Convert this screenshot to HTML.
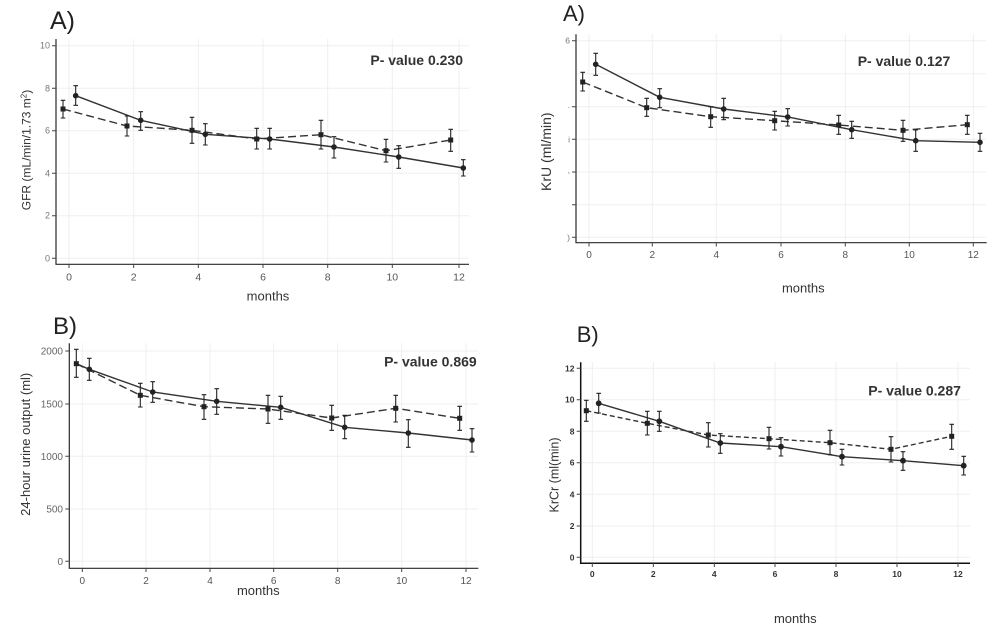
<!DOCTYPE html>
<html><head><meta charset="utf-8"><style>
html,body{margin:0;padding:0;background:#fff;}
svg{display:block;font-family:"Liberation Sans",Arial,sans-serif;}
.g{stroke:#efefef;stroke-width:1;fill:none}
.ax{stroke:#2a2a2a;stroke-width:1.2;fill:none}
.ax4{stroke:#111;stroke-width:1.5;fill:none}
.tk{stroke:#444;stroke-width:1;fill:none}
.s{stroke:#333;stroke-width:1.4;fill:none}
.d{stroke:#333;stroke-width:1.4;fill:none;stroke-dasharray:8 4}
.d4{stroke:#333;stroke-width:1.4;fill:none;stroke-dasharray:5 3}
.e{stroke:#222;stroke-width:1.1;fill:none}
.m{fill:#222}
.pv{font-weight:bold;font-size:14px;fill:#333}
.ttl{fill:#222}
.mo{font-size:13px;fill:#333;text-anchor:middle}
</style></head><body>
<svg width="1001" height="636" viewBox="0 0 1001 636" xmlns="http://www.w3.org/2000/svg">
<rect width="1001" height="636" fill="#fff"/>

<!-- ============ Panel 1 ============ -->
<path class="g" d="M56 45.7H469M56 88.3H469M56 130.7H469M56 173.3H469M56 215.7H469M56 258.3H469M69 39V264M133.7 39V264M198.3 39V264M263 39V264M327.7 39V264M392.3 39V264M459 39V264"/>
<path class="ax" d="M56 39V264.3H469"/>
<path class="tk" d="M52 45.7H56M52 88.3H56M52 130.7H56M52 173.3H56M52 215.7H56M52 258.3H56M69 264.3V268M133.7 264.3V268M198.3 264.3V268M263 264.3V268M327.7 264.3V268M392.3 264.3V268M459 264.3V268"/>
<g font-size="9" fill="#777" text-anchor="end">
<text x="50" y="48.7">10</text><text x="50" y="91.3">8</text><text x="50" y="133.7">6</text><text x="50" y="176.3">4</text><text x="50" y="218.7">2</text><text x="50" y="261.3">0</text>
</g>
<g font-size="10.5" fill="#555" text-anchor="middle">
<text x="69" y="280.5">0</text><text x="133.7" y="280.5">2</text><text x="198.3" y="280.5">4</text><text x="263" y="280.5">6</text><text x="327.7" y="280.5">8</text><text x="392.3" y="280.5">10</text><text x="459" y="280.5">12</text>
</g>
<text class="ttl" x="50" y="29" font-size="25">A)</text>
<text transform="translate(30.5,150) rotate(-90)" font-size="12" fill="#333" text-anchor="middle">GFR (mL/min/1.73 m<tspan font-size="8" dy="-4">2</tspan><tspan dy="4">)</tspan></text>
<text class="mo" x="268" y="300.5">months</text>
<text class="pv" x="463" y="65" text-anchor="end">P- value 0.230</text>
<polyline class="d" points="63,109 127,126 192,130.3 256.7,139 321,134.7 386,150.7 450.7,140"/>
<polyline class="s" points="75.7,95.7 140.7,120.3 205.3,134.3 269.7,139 334,147 398.7,157 463.3,168"/>
<path class="e" d="M75.7 85.7V105.3M73.4 85.7h4.6M73.4 105.3h4.6M140.7 111.7V130.3M138.4 111.7h4.6M138.4 130.3h4.6M205.3 123.7V145M203 123.7h4.6M203 145h4.6M269.7 128.3V149M267.4 128.3h4.6M267.4 149h4.6M334 136.7V158M331.7 136.7h4.6M331.7 158h4.6M398.7 145.7V168.3M396.4 145.7h4.6M396.4 168.3h4.6M463.3 159.7V176M461 159.7h4.6M461 176h4.6"/>
<path class="e" d="M63 100.3V118M60.7 100.3h4.6M60.7 118h4.6M127 116V136M124.7 116h4.6M124.7 136h4.6M192 117.3V143.3M189.7 117.3h4.6M189.7 143.3h4.6M256.7 128.3V149M254.4 128.3h4.6M254.4 149h4.6M321 120.3V149M318.7 120.3h4.6M318.7 149h4.6M386 139.3V162M383.7 139.3h4.6M383.7 162h4.6M450.7 129.3V151.3M448.4 129.3h4.6M448.4 151.3h4.6"/>
<g class="m">
<circle cx="75.7" cy="95.7" r="2.8"/><circle cx="140.7" cy="120.3" r="2.8"/><circle cx="205.3" cy="134.3" r="2.8"/><circle cx="269.7" cy="139" r="2.8"/><circle cx="334" cy="147" r="2.8"/><circle cx="398.7" cy="157" r="2.8"/><circle cx="463.3" cy="168" r="2.8"/>
<rect x="60.5" y="106.5" width="5" height="5"/><rect x="124.5" y="123.5" width="5" height="5"/><rect x="189.5" y="127.8" width="5" height="5"/><rect x="254.2" y="136.5" width="5" height="5"/><rect x="318.5" y="132.2" width="5" height="5"/><rect x="383.5" y="148.2" width="5" height="5"/><rect x="448.2" y="137.5" width="5" height="5"/>
</g>

<!-- ============ Panel 2 ============ -->
<path class="g" d="M576 40.7H986M576 73.7H986M576 106.7H986M576 139.3H986M576 172H986M576 204.7H986M576 237.3H986M589 34V242.7M652.3 34V242.7M716.3 34V242.7M781 34V242.7M845.3 34V242.7M909.3 34V242.7M973.3 34V242.7"/>
<path class="ax" d="M576 34.3V242.7H986.7"/>
<path class="tk" d="M572 40.7H576M572 106.7H576M572 139.3H576M572 172H576M572 204.7H576M572 237.3H576M589 242.7V246.5M652.3 242.7V246.5M716.3 242.7V246.5M781 242.7V246.5M845.3 242.7V246.5M909.3 242.7V246.5M973.3 242.7V246.5"/>
<g font-size="8.5" fill="#777" text-anchor="end">
<text x="570" y="43.7">6</text><text x="570" y="108">.</text><text x="570" y="142.3">i</text><text x="570" y="173">,</text><text x="570" y="240.3">)</text>
</g>
<g font-size="10" fill="#555" text-anchor="middle">
<text x="589" y="258">0</text><text x="652.3" y="258">2</text><text x="716.3" y="258">4</text><text x="781" y="258">6</text><text x="845.3" y="258">8</text><text x="909.3" y="258">10</text><text x="973.3" y="258">12</text>
</g>
<text class="ttl" x="563" y="21" font-size="22">A)</text>
<text transform="translate(551,151.7) rotate(-90)" font-size="14" fill="#333" text-anchor="middle">KrU (ml/min)</text>
<text class="mo" x="803.3" y="292.5">months</text>
<text class="pv" x="857.7" y="66">P- value 0.127</text>
<polyline class="d" points="582.7,82 646.7,107.7 710.7,116.7 774.7,120.7 838.7,125 903,130.3 967.3,124.7"/>
<polyline class="s" points="595.7,64.3 659.7,97.3 723.7,109 787.7,117 851.7,129.7 915.7,140.7 980,142.3"/>
<path class="e" d="M595.7 53.3V75.3M593.4 53.3h4.6M593.4 75.3h4.6M659.7 88.7V107.7M657.4 88.7h4.6M657.4 107.7h4.6M723.7 98.3V119.7M721.4 98.3h4.6M721.4 119.7h4.6M787.7 108.7V126M785.4 108.7h4.6M785.4 126h4.6M851.7 121.3V138.3M849.4 121.3h4.6M849.4 138.3h4.6M915.7 130V151.3M913.4 130h4.6M913.4 151.3h4.6M980 133.3V151.3M977.7 133.3h4.6M977.7 151.3h4.6"/>
<path class="e" d="M582.7 72.3V91M580.4 72.3h4.6M580.4 91h4.6M646.7 98.3V116.3M644.4 98.3h4.6M644.4 116.3h4.6M710.7 106.7V127.3M708.4 106.7h4.6M708.4 127.3h4.6M774.7 111.3V130M772.4 111.3h4.6M772.4 130h4.6M838.7 115.3V134.3M836.4 115.3h4.6M836.4 134.3h4.6M903 120.3V141.3M900.7 120.3h4.6M900.7 141.3h4.6M967.3 115.3V134.3M965 115.3h4.6M965 134.3h4.6"/>
<g class="m">
<circle cx="595.7" cy="64.3" r="2.8"/><circle cx="659.7" cy="97.3" r="2.8"/><circle cx="723.7" cy="109" r="2.8"/><circle cx="787.7" cy="117" r="2.8"/><circle cx="851.7" cy="129.7" r="2.8"/><circle cx="915.7" cy="140.7" r="2.8"/><circle cx="980" cy="142.3" r="2.8"/>
<rect x="580.2" y="79.5" width="5" height="5"/><rect x="644.2" y="105.2" width="5" height="5"/><rect x="708.2" y="114.2" width="5" height="5"/><rect x="772.2" y="118.2" width="5" height="5"/><rect x="836.2" y="122.5" width="5" height="5"/><rect x="900.5" y="127.8" width="5" height="5"/><rect x="964.8" y="122.2" width="5" height="5"/>
</g>

<!-- ============ Panel 3 ============ -->
<path class="g" d="M69.3 351H478M69.3 404H478M69.3 456.3H478M69.3 509H478M69.3 561.3H478M82.3 343V568M146 343V568M210 343V568M273.7 343V568M337.7 343V568M401.7 343V568M466 343V568"/>
<path class="ax" d="M69.3 343.3V568.3H478.3"/>
<path class="tk" d="M65.3 351H69.3M65.3 404H69.3M65.3 456.3H69.3M65.3 509H69.3M65.3 561.3H69.3M82.3 568.3V572M146 568.3V572M210 568.3V572M273.7 568.3V572M337.7 568.3V572M401.7 568.3V572M466 568.3V572"/>
<g font-size="10" fill="#666" text-anchor="end">
<text x="63" y="354.5">2000</text><text x="63" y="407.5">1500</text><text x="63" y="459.8">1000</text><text x="63" y="512.5">500</text><text x="63" y="564.8">0</text>
</g>
<g font-size="10" fill="#555" text-anchor="middle">
<text x="82.3" y="584">0</text><text x="146" y="584">2</text><text x="210" y="584">4</text><text x="273.7" y="584">6</text><text x="337.7" y="584">8</text><text x="401.7" y="584">10</text><text x="466" y="584">12</text>
</g>
<text class="ttl" x="53" y="334" font-size="24">B)</text>
<text transform="translate(30,444.3) rotate(-90)" font-size="13" fill="#333" text-anchor="middle">24-hour urine output (ml)</text>
<text class="mo" x="258.3" y="595">months</text>
<text class="pv" x="476.7" y="366.5" text-anchor="end">P- value 0.869</text>
<polyline class="d" points="76.3,363.7 140.3,395.3 204,406.7 268,409 331.7,418 395.7,408.3 459.7,418.3"/>
<polyline class="s" points="76.3,363.7 89.3,369.3 152.7,392 216.7,401.3 280.7,407.3 344.7,427.3 408.3,433 472,440"/>
<path class="e" d="M89.3 358.3V380.3M87 358.3h4.6M87 380.3h4.6M152.7 381.7V402.3M150.4 381.7h4.6M150.4 402.3h4.6M216.7 388.7V414.3M214.4 388.7h4.6M214.4 414.3h4.6M280.7 396.3V419.3M278.4 396.3h4.6M278.4 419.3h4.6M344.7 415.3V438.7M342.4 415.3h4.6M342.4 438.7h4.6M408.3 419.7V447.3M406 419.7h4.6M406 447.3h4.6M472 428.7V452M469.7 428.7h4.6M469.7 452h4.6"/>
<path class="e" d="M76.3 349.3V377.3M74 349.3h4.6M74 377.3h4.6M140.3 383.3V407M138 383.3h4.6M138 407h4.6M204 394.7V419.3M201.7 394.7h4.6M201.7 419.3h4.6M268 395.3V423.3M265.7 395.3h4.6M265.7 423.3h4.6M331.7 405.3V430.3M329.4 405.3h4.6M329.4 430.3h4.6M395.7 395.3V422M393.4 395.3h4.6M393.4 422h4.6M459.7 406.3V430.3M457.4 406.3h4.6M457.4 430.3h4.6"/>
<g class="m">
<circle cx="89.3" cy="369.3" r="2.8"/><circle cx="152.7" cy="392" r="2.8"/><circle cx="216.7" cy="401.3" r="2.8"/><circle cx="280.7" cy="407.3" r="2.8"/><circle cx="344.7" cy="427.3" r="2.8"/><circle cx="408.3" cy="433" r="2.8"/><circle cx="472" cy="440" r="2.8"/>
<rect x="73.8" y="361.2" width="5" height="5"/><rect x="137.8" y="392.8" width="5" height="5"/><rect x="201.5" y="404.2" width="5" height="5"/><rect x="265.5" y="406.5" width="5" height="5"/><rect x="329.2" y="415.5" width="5" height="5"/><rect x="393.2" y="405.8" width="5" height="5"/><rect x="457.2" y="415.8" width="5" height="5"/>
</g>

<!-- ============ Panel 4 ============ -->
<path class="g" d="M580.7 368.3H970M580.7 399.7H970M580.7 431.3H970M580.7 462.7H970M580.7 494.3H970M580.7 526H970M580.7 557.3H970M592.3 362V563M653.3 362V563M714.3 362V563M775 362V563M836 362V563M897 362V563M958 362V563"/>
<path class="ax4" d="M580.7 362.3V563.3H970"/>
<path class="tk" d="M576.7 368.3H580.7M576.7 399.7H580.7M576.7 431.3H580.7M576.7 462.7H580.7M576.7 494.3H580.7M576.7 526H580.7M576.7 557.3H580.7M592.3 563.3V567M653.3 563.3V567M714.3 563.3V567M775 563.3V567M836 563.3V567M897 563.3V567M958 563.3V567"/>
<g font-size="8.5" font-weight="bold" fill="#333" text-anchor="end">
<text x="574.5" y="371.3">12</text><text x="574.5" y="402.7">10</text><text x="574.5" y="434.3">8</text><text x="574.5" y="465.7">6</text><text x="574.5" y="497.3">4</text><text x="574.5" y="529">2</text><text x="574.5" y="560.3">0</text>
</g>
<g font-size="8.5" font-weight="bold" fill="#333" text-anchor="middle">
<text x="592.3" y="577">0</text><text x="653.3" y="577">2</text><text x="714.3" y="577">4</text><text x="775" y="577">6</text><text x="836" y="577">8</text><text x="897" y="577">10</text><text x="958" y="577">12</text>
</g>
<text class="ttl" x="576.7" y="342" font-size="22">B)</text>
<text transform="translate(558.5,475) rotate(-90)" font-size="12.5" fill="#333" text-anchor="middle">KrCr (ml(min)</text>
<text class="mo" x="795.3" y="623">months</text>
<text class="pv" x="868.3" y="395.5">P- value 0.287</text>
<polyline class="d4" points="586.3,410.7 647.3,423.3 708.3,435 769,438.7 830,442.7 891,449.3 951.7,436.3"/>
<polyline class="s" points="598.7,403.3 659.3,421.3 720.3,443 781,446.7 842,456.7 903,460.7 963.7,465.7"/>
<path class="e" d="M598.7 393.3V413M596.4 393.3h4.6M596.4 413h4.6M659.3 411.3V431.3M657 411.3h4.6M657 431.3h4.6M720.3 433.7V453.3M718 433.7h4.6M718 453.3h4.6M781 437.7V456M778.7 437.7h4.6M778.7 456h4.6M842 449.3V465M839.7 449.3h4.6M839.7 465h4.6M903 451.7V470.3M900.7 451.7h4.6M900.7 470.3h4.6M963.7 456.3V475M961.4 456.3h4.6M961.4 475h4.6"/>
<path class="e" d="M586.3 400.3V421.3M584 400.3h4.6M584 421.3h4.6M647.3 411.3V435M645 411.3h4.6M645 435h4.6M708.3 422.7V447M706 422.7h4.6M706 447h4.6M769 427.3V449M766.7 427.3h4.6M766.7 449h4.6M830 430.3V454.7M827.7 430.3h4.6M827.7 454.7h4.6M891 436.7V462M888.7 436.7h4.6M888.7 462h4.6M951.7 424.3V449.3M949.4 424.3h4.6M949.4 449.3h4.6"/>
<g class="m">
<circle cx="598.7" cy="403.3" r="2.9"/><circle cx="659.3" cy="421.3" r="2.9"/><circle cx="720.3" cy="443" r="2.9"/><circle cx="781" cy="446.7" r="2.9"/><circle cx="842" cy="456.7" r="2.9"/><circle cx="903" cy="460.7" r="2.9"/><circle cx="963.7" cy="465.7" r="2.9"/>
<rect x="583.8" y="408.2" width="5" height="5"/><rect x="644.8" y="420.8" width="5" height="5"/><rect x="705.8" y="432.5" width="5" height="5"/><rect x="766.5" y="436.2" width="5" height="5"/><rect x="827.5" y="440.2" width="5" height="5"/><rect x="888.5" y="446.8" width="5" height="5"/><rect x="949.2" y="433.8" width="5" height="5"/>
</g>
</svg>
</body></html>
